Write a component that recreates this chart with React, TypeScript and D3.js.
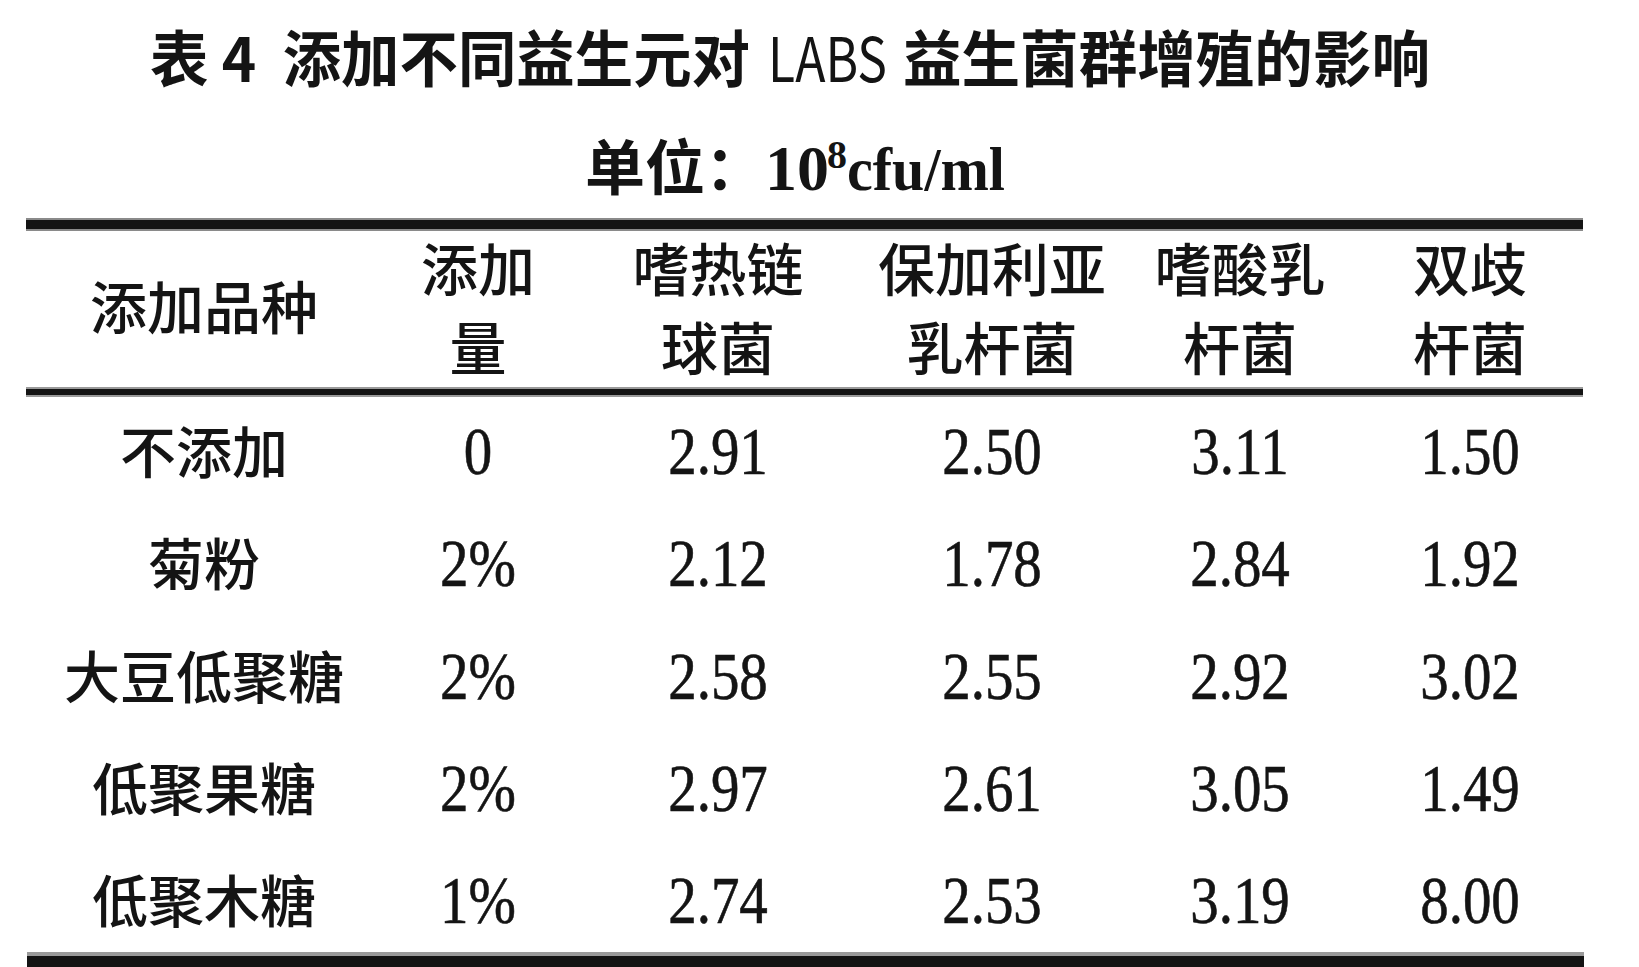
import * as d3 from 'd3'

// Table 4 data
const categories = ['不添加', '菊粉', '大豆低聚糖', '低聚果糖', '低聚木糖']
const doses = ['0', '2%', '2%', '2%', '1%']
const headers = [['添加品种'], ['添加', '量'], ['嗜热链', '球菌'], ['保加利亚', '乳杆菌'], ['嗜酸乳', '杆菌'], ['双歧', '杆菌']]
const streptococcus = [2.91, 2.12, 2.58, 2.97, 2.74]
const bulgaricus = [2.50, 1.78, 2.55, 2.61, 2.53]
const acidophilus = [3.11, 2.84, 2.92, 3.05, 3.19]
const bifidobacterium = [1.50, 1.92, 3.02, 1.49, 8.00]

const columns = ['category', 'dose', 'strep', 'bulg', 'acid', 'bifido']
const series = [streptococcus, bulgaricus, acidophilus, bifidobacterium]

const width = 1639
const height = 967
const cjk = '"Noto Sans CJK SC", "Noto Sans CJK TC", sans-serif'
const serif = '"Liberation Serif", "DejaVu Serif", serif'
const ink = '#141414'

export default function App() {
  const x = d3.scaleOrdinal<string, number>()
    .domain(columns)
    .range([204, 478, 718, 992, 1240, 1470])

  const y = d3.scalePoint<string>()
    .domain(categories)
    .range([452, 901])

  const fmt = d3.format('.2f')

  const numText = (key: string, cx: number, cy: number, s: string) => (
    <text
      key={key}
      transform={`translate(${cx},${cy + 22}) scale(0.85,1)`}
      textAnchor="middle"
      fontFamily={serif}
      fontSize={67}
      fill={ink}
      stroke={ink}
      strokeWidth={0.6}
    >
      {s}
    </text>
  )

  return (
    <svg
      width={width}
      height={height}
      style={{ position: 'absolute', left: 0, top: 0, background: '#fff' }}
    >
      {/* Title, in three pieces */}
      <text x={150} y={82} fontFamily={cjk} fontWeight={700} fontSize={61} fill={ink}
        textLength={600} lengthAdjust="spacingAndGlyphs">
        表 4{'\u00a0\u00a0'}添加不同益生元对
      </text>
      <text x={768} y={82} fontFamily={cjk} fontWeight={400} fontSize={61} fill={ink}
        textLength={119} lengthAdjust="spacingAndGlyphs">
        LABS
      </text>
      <text x={903} y={82} fontFamily={cjk} fontWeight={700} fontSize={61} fill={ink}
        textLength={527} lengthAdjust="spacingAndGlyphs">
        益生菌群增殖的影响
      </text>

      {/* Unit line */}
      <text x={585} y={190} fill={ink}>
        <tspan fontFamily={cjk} fontWeight={700} fontSize={60}>单位：</tspan>
        <tspan fontFamily={serif} fontWeight={700} fontSize={64}>10</tspan>
        <tspan fontFamily={serif} fontWeight={700} fontSize={40} dy={-22} dx={-2}>8</tspan>
        <tspan fontFamily={serif} fontWeight={700} fontSize={62} dy={22} textLength={158} lengthAdjust="spacingAndGlyphs">cfu/ml</tspan>
      </text>

      {/* Rules */}
      <rect x={26} y={218} width={1557} height={13} fill="#8a8a8a" />
      <rect x={26} y={220} width={1557} height={9} fill={ink} />
      <rect x={26} y={387} width={1557} height={10} fill="#9a9a9a" />
      <rect x={26} y={389} width={1557} height={6} fill={ink} />
      <rect x={27} y={952} width={1557} height={15} fill="#9a9a9a" />
      <rect x={27} y={956} width={1557} height={11} fill={ink} />

      {/* Header */}
      {headers.map((lines, i) => {
        const cx = x(columns[i])
        const ys = lines.length === 1 ? [308] : [270, 349]
        return lines.map((t, j) => (
          <text
            key={`h${i}-${j}`}
            x={cx}
            y={ys[j] + 21}
            textAnchor="middle"
            fontFamily={cjk}
            fontWeight={500}
            fontSize={57}
            fill={ink}
          >
            {t}
          </text>
        ))
      })}

      {/* Row labels */}
      {categories.map(c => (
        <text
          key={`c-${c}`}
          x={x('category')}
          y={(y(c) || 0) + 21}
          textAnchor="middle"
          fontFamily={cjk}
          fontWeight={500}
          fontSize={56}
          fill={ink}
        >
          {c}
        </text>
      ))}

      {/* Doses */}
      {categories.map((c, i) => numText(`d-${i}`, x('dose'), y(c) || 0, doses[i]))}

      {/* Values */}
      {series.map((vals, s) =>
        categories.map((c, i) => numText(`v-${s}-${i}`, x(columns[s + 2]), y(c) || 0, fmt(vals[i])))
      )}
    </svg>
  )
}
